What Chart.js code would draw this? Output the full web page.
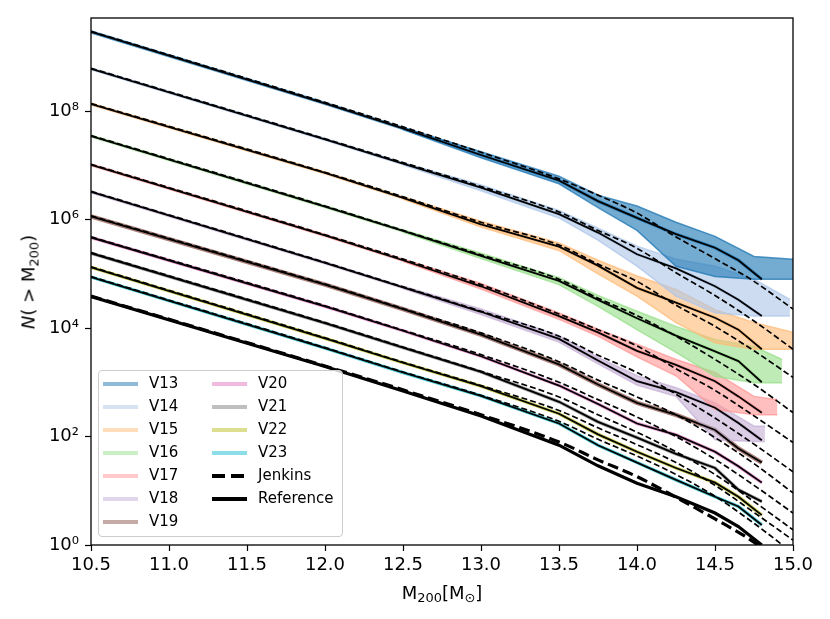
<!DOCTYPE html>
<html>
<head>
<meta charset="utf-8">
<script src="https://cdn.jsdelivr.net/npm/chart.js@4.4.1/dist/chart.umd.min.js"></script>
<style>
  html, body { margin: 0; padding: 0; background: #fff; }
  #wrap { position: relative; width: 830px; height: 619px; font-family: "DejaVu Sans", sans-serif; color: #000; }
  #chart { position: absolute; left: 0; top: 0; }
  .ylabel { position: absolute; left: 28px; top: 282px; transform: translate(-50%, -50%) rotate(-90deg); font-size: 18px; white-space: nowrap; }
  .xlabel { position: absolute; left: 442px; top: 592px; transform: translate(-50%, -50%); font-size: 18px; white-space: nowrap; }
  .ylabel sub, .xlabel sub { font-size: 72%; vertical-align: -0.3em; line-height: 0; }
  #legend { position: absolute; left: 98px; top: 370px; width: 245px; height: 167px; box-sizing: border-box;
            border: 1px solid #cccccc; border-radius: 4px; background: rgba(255, 255, 255, 0.8); }
  .item { position: absolute; height: 18px; display: flex; align-items: center; font-size: 15px; line-height: 1; white-space: nowrap; }
  .handle { width: 35px; height: 4px; margin-right: 11px; }
</style>
</head>
<body>
<div id="wrap">
  <canvas id="chart" width="830" height="619"></canvas>
  <div class="ylabel"><i>N</i>( &gt; M<sub>200</sub>)</div>
  <div class="xlabel">M<sub>200</sub>[M<sub>⊙</sub>]</div>
  <div id="legend"></div>
</div>
<script>
// masses (log10 M200) where the curves were read
const massGrid = [10.5, 12.0, 12.5, 13.0, 13.5, 13.75, 14.0, 14.25, 14.5, 14.65, 14.8];
const jenkinsGrid = [10.5, 12.0, 12.5, 13.0, 13.5, 13.75, 14.0, 14.25, 14.5, 14.75, 15.0];

const versionNames = ['V13', 'V14', 'V15', 'V16', 'V17', 'V18', 'V19', 'V20', 'V21', 'V22', 'V23'];
const versionColors = ['#1f77b4', '#aec7e8', '#ffbb78', '#98df8a', '#ff9896', '#c5b0d5',
                       '#8c564b', '#e377c2', '#7f7f7f', '#bcbd22', '#17becf'];

// log10 N(>M) of the mean curve (black solid)
const meanV13 = [9.46, 8.14, 7.68, 7.19, 6.72, 6.34, 6.03, 5.73, 5.48, 5.25, 4.90];
const meanV14 = [8.78, 7.48, 7.03, 6.59, 6.10, 5.76, 5.36, 5.10, 4.77, 4.52, 4.22];
const meanV15 = [8.13, 6.86, 6.40, 5.91, 5.50, 5.15, 4.74, 4.47, 4.19, 3.97, 3.61];
const meanV16 = [7.54, 6.24, 5.79, 5.33, 4.87, 4.52, 4.18, 3.86, 3.57, 3.39, 3.00];
const meanV17 = [7.01, 5.71, 5.25, 4.77, 4.22, 3.92, 3.58, 3.32, 3.02, 2.74, 2.44];
const meanV18 = [6.51, 5.20, 4.75, 4.30, 3.80, 3.40, 3.02, 2.82, 2.53, 2.25, 1.93];
const meanV19 = [6.06, 4.80, 4.35, 3.88, 3.33, 2.96, 2.62, 2.40, 2.12, 1.78, 1.52];
const meanV20 = [5.67, 4.40, 3.95, 3.48, 2.94, 2.60, 2.24, 2.03, 1.72, 1.45, 1.15];
const meanV21 = [5.38, 4.09, 3.64, 3.19, 2.64, 2.27, 1.98, 1.68, 1.42, 1.02, 0.80];
const meanV22 = [5.12, 3.81, 3.36, 2.93, 2.42, 2.04, 1.72, 1.42, 1.15, 0.89, 0.55];
const meanV23 = [4.94, 3.63, 3.18, 2.75, 2.24, 1.84, 1.52, 1.20, 0.89, 0.71, 0.37];
const meanRef = [4.58, 3.29, 2.84, 2.38, 1.84, 1.46, 1.14, 0.89, 0.59, 0.34, 0.00];

// log10 N(>M) of the Jenkins fits (black dashed)
const jenV13 = [9.47, 8.16, 7.71, 7.24, 6.75, 6.45, 6.12, 5.68, 5.28, 4.86, 4.35];
const jenV14 = [8.79, 7.49, 7.05, 6.61, 6.14, 5.80, 5.47, 5.02, 4.60, 4.13, 3.61];
const jenV15 = [8.14, 6.87, 6.42, 5.95, 5.53, 5.18, 4.86, 4.42, 4.03, 3.58, 3.09];
const jenV16 = [7.55, 6.25, 5.80, 5.35, 4.90, 4.55, 4.23, 3.85, 3.42, 2.96, 2.44];
const jenV17 = [7.02, 5.72, 5.27, 4.80, 4.26, 3.97, 3.67, 3.25, 2.85, 2.38, 1.89];
const jenV18 = [6.52, 5.21, 4.76, 4.31, 3.85, 3.50, 3.18, 2.78, 2.34, 1.86, 1.35];
const jenV19 = [6.07, 4.81, 4.36, 3.91, 3.38, 3.04, 2.73, 2.40, 1.98, 1.50, 0.96];
const jenV20 = [5.68, 4.41, 3.96, 3.51, 3.00, 2.68, 2.36, 2.00, 1.58, 1.10, 0.59];
const jenV21 = [5.39, 4.10, 3.65, 3.20, 2.73, 2.40, 2.08, 1.72, 1.30, 0.80, 0.28];
const jenV22 = [5.13, 3.82, 3.37, 2.94, 2.48, 2.16, 1.85, 1.52, 1.10, 0.60, 0.09];
const jenV23 = [4.95, 3.64, 3.19, 2.76, 2.28, 1.95, 1.64, 1.30, 0.90, 0.40, -0.15];
const jenRef = [4.59, 3.30, 2.86, 2.40, 1.90, 1.57, 1.26, 0.88, 0.48, 0.05, -0.55];

// spread of the individual realisations at the high mass end
const bandMassV13 = [12.5, 13.0, 13.5, 13.75, 14.0, 14.25, 14.5, 14.75, 15.0];
const bandHiV13 = [7.70, 7.25, 6.80, 6.45, 6.25, 5.95, 5.69, 5.32, 5.27];
const bandLoV13 = [7.66, 7.14, 6.66, 6.22, 5.80, 5.14, 4.95, 4.90, 4.90];
const bandMassV14 = [12.5, 13.0, 13.5, 13.75, 14.0, 14.25, 14.5, 14.75, 14.98];
const bandHiV14 = [7.05, 6.64, 6.17, 5.84, 5.51, 5.27, 5.14, 4.90, 4.53];
const bandLoV14 = [7.01, 6.53, 6.03, 5.62, 5.14, 4.59, 4.28, 4.22, 4.22];
const bandMassV15 = [12.5, 13.0, 13.5, 13.75, 14.0, 14.25, 14.5, 14.75, 15.0];
const bandHiV15 = [6.42, 5.97, 5.57, 5.25, 4.96, 4.71, 4.34, 4.10, 3.92];
const bandLoV15 = [6.38, 5.86, 5.43, 5.00, 4.59, 4.10, 3.73, 3.61, 3.61];
const bandMassV16 = [12.5, 13.0, 13.5, 13.75, 14.0, 14.25, 14.5, 14.75, 14.93];
const bandHiV16 = [5.81, 5.38, 4.93, 4.60, 4.31, 4.03, 3.79, 3.66, 3.42];
const bandLoV16 = [5.77, 5.28, 4.80, 4.40, 3.97, 3.55, 3.11, 2.99, 2.99];
const bandMassV17 = [12.5, 13.0, 13.5, 13.75, 14.0, 14.25, 14.5, 14.75, 14.9];
const bandHiV17 = [5.27, 4.82, 4.28, 3.98, 3.70, 3.42, 3.18, 2.74, 2.68];
const bandLoV17 = [5.23, 4.72, 4.16, 3.85, 3.47, 3.12, 2.50, 2.40, 2.40];
const bandMassV18 = [12.5, 13.0, 13.5, 13.75, 14.0, 14.25, 14.5, 14.75, 14.82];
const bandHiV18 = [4.77, 4.35, 3.86, 3.46, 3.12, 2.90, 2.62, 2.19, 2.19];
const bandLoV18 = [4.73, 4.25, 3.74, 3.34, 2.95, 2.74, 1.94, 1.91, 1.91];

const xTicks = [10.5, 11.0, 11.5, 12.0, 12.5, 13.0, 13.5, 14.0, 14.5, 15.0];
const yTickValues = [1, 1e2, 1e4, 1e6, 1e8];
const yTickLabels = ['10⁰', '10²', '10⁴', '10⁶', '10⁸'];

const means = [meanV13, meanV14, meanV15, meanV16, meanV17, meanV18, meanV19, meanV20, meanV21, meanV22, meanV23];
const jenkins = [jenV13, jenV14, jenV15, jenV16, jenV17, jenV18, jenV19, jenV20, jenV21, jenV22, jenV23];
const bands = [
  [bandMassV13, bandHiV13, bandLoV13],
  [bandMassV14, bandHiV14, bandLoV14],
  [bandMassV15, bandHiV15, bandLoV15],
  [bandMassV16, bandHiV16, bandLoV16],
  [bandMassV17, bandHiV17, bandLoV17],
  [bandMassV18, bandHiV18, bandLoV18]
];

function pts(xs, logs) {
  return xs.map((x, k) => ({ x: x, y: Math.pow(10, logs[k]) }));
}
function rgba(hex, a) {
  const n = parseInt(hex.slice(1), 16);
  return `rgba(${(n >> 16) & 255}, ${(n >> 8) & 255}, ${n & 255}, ${a})`;
}

const datasets = [];
for (let i = 0; i < versionNames.length; i++) {
  const c = versionColors[i];
  // realisations collapsed into a coloured line
  datasets.push({
    data: pts(massGrid, means[i]), borderColor: rgba(c, 0.75), borderWidth: i === 6 ? 4.5 : 3.4,
    pointRadius: 0, fill: false, order: 4
  });
  if (i < bands.length) {
    const b = bands[i];
    datasets.push({
      data: pts(b[0], b[1]), borderColor: rgba(c, 0.75), backgroundColor: rgba(c, 0.62), borderWidth: 1.5,
      pointRadius: 0, fill: '+1', order: 3
    });
    datasets.push({
      data: pts(b[0], b[2]), borderColor: rgba(c, 0.75), borderWidth: 1.5, pointRadius: 0, fill: false, order: 3
    });
  }
  datasets.push({
    data: pts(massGrid, means[i]), borderColor: '#000', borderWidth: 1.8, pointRadius: 0, fill: false, order: 1
  });
  datasets.push({
    data: pts(jenkinsGrid, jenkins[i]), borderColor: '#000', borderWidth: 1.7, borderDash: [6, 3],
    cubicInterpolationMode: 'monotone', pointRadius: 0, fill: false, order: 0
  });
}
datasets.push({
  data: pts(massGrid, meanRef), borderColor: '#000', borderWidth: 3.2, pointRadius: 0, fill: false, order: 1
});
datasets.push({
  data: pts(jenkinsGrid, jenRef), borderColor: '#000', borderWidth: 3.2, borderDash: [11, 5],
  cubicInterpolationMode: 'monotone', pointRadius: 0, fill: false, order: 0
});

const framePlugin = {
  id: 'frame',
  afterDatasetsDraw(chart) {
    const { ctx, chartArea: a } = chart;
    ctx.save();
    ctx.strokeStyle = '#000';
    ctx.lineWidth = 1.3;
    ctx.strokeRect(a.left, a.top, a.right - a.left, a.bottom - a.top);
    ctx.restore();
  }
};

Chart.defaults.font.family = '"DejaVu Sans", sans-serif';
Chart.defaults.color = '#000';

new Chart(document.getElementById('chart'), {
  type: 'line',
  data: { datasets: datasets },
  options: {
    responsive: false,
    animation: false,
    devicePixelRatio: 1,
    layout: { padding: { top: 18, right: 37, left: 0, bottom: 0 } },
    elements: { line: { tension: 0 } },
    plugins: { legend: { display: false }, tooltip: { enabled: false } },
    scales: {
      x: {
        type: 'linear', min: 10.5, max: 15.0,
        afterBuildTicks: (scale) => { scale.ticks = xTicks.map(v => ({ value: v })); },
        afterFit: (scale) => { scale.height = 74; },
        border: { display: false },
        grid: { drawOnChartArea: false, drawTicks: true, tickLength: 6, tickColor: '#000', tickWidth: 1.2 },
        ticks: { font: { size: 18 }, padding: 4, maxRotation: 0, callback: (v) => Number(v).toFixed(1) }
      },
      y: {
        type: 'logarithmic', min: 1, max: 5.2e9,
        afterBuildTicks: (scale) => { scale.ticks = yTickValues.map(v => ({ value: v })); },
        afterFit: (scale) => { scale.width = 91; },
        border: { display: false },
        grid: { drawOnChartArea: false, drawTicks: true, tickLength: 6, tickColor: '#000', tickWidth: 1.2 },
        ticks: { font: { size: 18 }, padding: 6, callback: (v, idx) => yTickLabels[idx] }
      }
    }
  },
  plugins: [framePlugin]
});

// legend, two columns
const legend = document.getElementById('legend');
const entries = versionNames.map((n, i) => ({ label: n, style: 'background:' + rgba(versionColors[i], 0.5) }));
entries.push({ label: 'Jenkins', style: 'background: repeating-linear-gradient(to right, #000 0 13px, transparent 13px 19px); height:4px' });
entries.push({ label: 'Reference', style: 'background:#000; height:4px' });
entries.forEach((e, k) => {
  const col = k < 7 ? 0 : 1;
  const row = k < 7 ? k : k - 7;
  const div = document.createElement('div');
  div.className = 'item';
  div.style.left = (col === 0 ? 4 : 113) + 'px';
  div.style.top = (3.5 + 23 * row) + 'px';
  div.innerHTML = `<span class="handle" style="${e.style}"></span>${e.label}`;
  legend.appendChild(div);
});
</script>
</body>
</html>
